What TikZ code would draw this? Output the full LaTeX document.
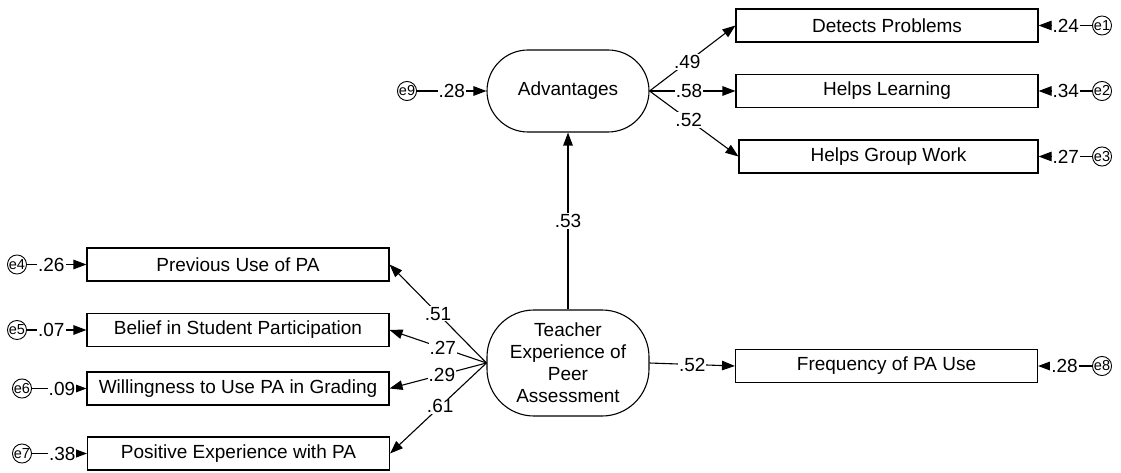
\documentclass[tikz,border=0pt]{standalone}
\usepackage{fontspec}
\setmainfont{Liberation Sans}
\usetikzlibrary{arrows.meta}
\begin{document}
\begin{tikzpicture}[x=1pt,y=-1pt,
  every node/.style={font=\fontsize{19}{22}\selectfont},
  obs/.style={draw, line width=1.1pt, minimum width=302, minimum height=33, inner sep=0},
  lat/.style={draw, line width=1.1pt, inner sep=0},
  err/.style={draw, circle, line width=0.9pt, minimum size=16, inner sep=0, font=\fontsize{14.5}{14.5}\selectfont},
  arr/.style={line width=1.1pt, -{Triangle[length=13pt,width=9.5pt]}},
  coef/.style={fill=white, inner sep=1pt, font=\fontsize{19}{19}\selectfont}
]
\useasboundingbox (0,0) rectangle (1121,473);

% latent variables
\node[lat, rounded corners=41, minimum width=162, minimum height=82] (adv) at (568,91) {Advantages};
\node[lat, rounded corners=47, minimum width=162, minimum height=106, align=center] (tea) at (568,363) {Teacher\\Experience of\\Peer\\Assessment};

% observed variables
\node[obs] (dp) at (887,25.5) {Detects Problems};
\node[obs] (hl) at (887,91) {Helps Learning};
\node[obs, minimum width=299] (hg) at (888.5,156.5) {Helps Group Work};
\node[obs] (pu) at (238,264.5) {Previous Use of PA};
\node[obs] (bs) at (238,330) {Belief in Student Participation};
\node[obs] (wg) at (238,388.5) {Willingness to Use PA in Grading};
\node[obs] (pe) at (238.5,453.5) {Positive Experience with PA};
\node[obs] (fq) at (886.5,366) {Frequency of PA Use};

% error terms
\node[err] (e1) at (1102,25.5) {e1};
\node[err] (e2) at (1102,91) {e2};
\node[err] (e3) at (1102,156.5) {e3};
\node[err] (e8) at (1102,366) {e8};
\node[err] (e9) at (407,91) {e9};
\node[err] (e4) at (17,264.5) {e4};
\node[err] (e5) at (17,330) {e5};
\node[err] (e6) at (22,388.5) {e6};
\node[err] (e7) at (22,453.5) {e7};

% structural paths
\draw[arr] (tea.north) -- (adv.south) node[coef, pos=0.5] {.53};
\draw[arr] (adv.east) -- (dp.west) node[coef, pos=0.44] {.49};
\draw[arr] (adv.east) -- (hl.west) node[coef, pos=0.46] {.58};
\draw[arr] (adv.east) -- (hg.west) node[coef, pos=0.44] {.52};
\draw[arr] (tea.west) -- (pu.east) node[coef, pos=0.5] {.51};
\draw[arr] (tea.west) -- (bs.east) node[coef, pos=0.45] {.27};
\draw[arr] (tea.west) -- (wg.east) node[coef, pos=0.46] {.29};
\draw[arr] (tea.west) -- (pe.east) node[coef, pos=0.48] {.61};
\draw[arr] (tea.east) -- (fq.west) node[coef, pos=0.5] {.52};

% error paths
\draw[arr] (e1) -- (dp.east) node[coef, pos=0.49] {.24};
\draw[arr] (e2) -- (hl.east) node[coef, pos=0.49] {.34};
\draw[arr] (e3) -- (hg.east) node[coef, pos=0.49] {.27};
\draw[arr] (e8) -- (fq.east) node[coef, pos=0.51] {.28};
\draw[arr] (e9) -- (adv.west) node[coef, pos=0.5] {.28};
\draw[arr] (e4) -- (pu.west) node[coef, pos=0.41] {.26};
\draw[arr] (e5) -- (bs.west) node[coef, pos=0.41] {.07};
\draw[arr] (e6) -- (wg.west) node[coef, pos=0.55] {.09};
\draw[arr] (e7) -- (pe.west) node[coef, pos=0.55] {.38};
\end{tikzpicture}
\end{document}
